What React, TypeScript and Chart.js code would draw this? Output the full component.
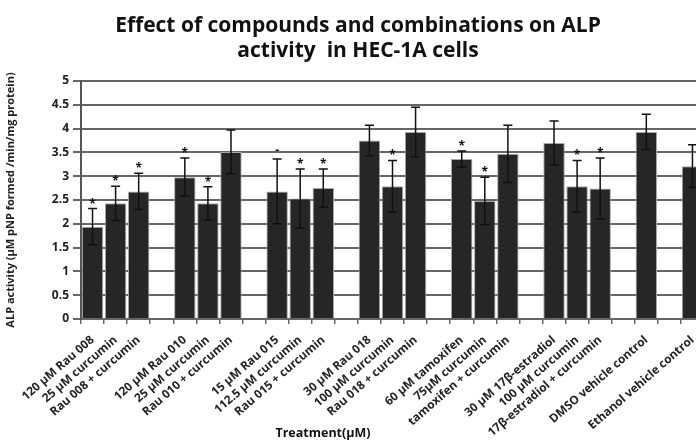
import { useEffect, useRef } from "react";
import { Chart, registerables } from "chart.js";

Chart.register(...registerables);

// 27 category slots; empty strings / nulls are the gaps between treatment groups
const categories: string[] = [
  "120 µM Rau 008", "25 µM curcumin", "Rau 008 + curcumin", "",
  "120 µM Rau 010", "25 µM curcumin", "Rau 010 + curcumin", "",
  "15 µM Rau 015", "112.5 µM curcumin", "Rau 015 + curcumin", "",
  "30 µM Rau 018", "100 µM curcumin", "Rau 018 + curcumin", "",
  "60 µM tamoxifen", "75µM curcumin", "tamoxifen + curcumin", "",
  "30 µM 17β-estradiol", "100 µM curcumin", "17β-estradiol + curcumin", "",
  "DMSO vehicle control", "",
  "Ethanol vehicle control",
];

const means: (number | null)[] = [
  1.94, 2.43, 2.68, null,
  2.98, 2.43, 3.51, null,
  2.68, 2.53, 2.75, null,
  3.75, 2.79, 3.93, null,
  3.36, 2.48, 3.47, null,
  3.70, 2.79, 2.74, null,
  3.93, null,
  3.21,
];

const errors: (number | null)[] = [
  0.38, 0.36, 0.38, null,
  0.40, 0.35, 0.46, null,
  0.68, 0.62, 0.40, null,
  0.32, 0.54, 0.52, null,
  0.17, 0.50, 0.60, null,
  0.46, 0.54, 0.64, null,
  0.37, null,
  0.45,
];

const marks: string[] = [
  "*", "*", "*", "",
  "*", "*", "", "",
  "-", "*", "*", "",
  "", "*", "", "",
  "*", "*", "", "",
  "", "*", "*", "",
  "", "",
  "",
];

const titleLines = ["Effect of compounds and combinations on ALP", "activity  in HEC-1A cells"];
const yTitle = "ALP activity (µM pNP formed /min/mg protein)";
const xTitle = "Treatment(µM)";

const FONT = "'Open Sans', 'DejaVu Sans', sans-serif";

const overlay = {
  id: "overlay",
  afterDatasetsDraw(chart: any) {
    const { ctx } = chart;
    const xs = chart.scales.x;
    const ys = chart.scales.y;
    ctx.save();
    means.forEach((m, i) => {
      if (m == null) return;
      const e = errors[i] ?? 0;
      const cx = xs.getPixelForValue(i);
      const top = ys.getPixelForValue(m + e);
      const bot = ys.getPixelForValue(m - e);
      ctx.strokeStyle = "#111";
      ctx.lineWidth = 1.5;
      ctx.beginPath();
      ctx.moveTo(cx, top);
      ctx.lineTo(cx, bot);
      ctx.moveTo(cx - 4.5, top);
      ctx.lineTo(cx + 4.5, top);
      ctx.moveTo(cx - 4.5, bot);
      ctx.lineTo(cx + 4.5, bot);
      ctx.stroke();
      const mk = marks[i];
      if (mk) {
        ctx.fillStyle = "#111";
        ctx.textAlign = "center";
        ctx.textBaseline = "alphabetic";
        ctx.font = `bold 12px ${FONT}`;
        ctx.fillText(mk, cx, mk === "*" ? top - 1 : top - 5);
      }
    });
    ctx.restore();
  },
  afterDraw(chart: any) {
    const { ctx } = chart;
    ctx.save();
    ctx.fillStyle = "#111";
    ctx.textAlign = "center";
    ctx.textBaseline = "middle";
    ctx.font = `bold 21px ${FONT}`;
    ctx.fillText(titleLines[0], 358, 26);
    ctx.fillText(titleLines[1], 358, 51);
    ctx.font = `bold 12.5px ${FONT}`;
    ctx.fillText(xTitle, 323, 433);
    ctx.restore();
  },
};

export default function App() {
  const ref = useRef<HTMLCanvasElement | null>(null);
  useEffect(() => {
    if (!ref.current) return;
    const chart = new Chart(ref.current, {
      type: "bar",
      data: {
        labels: categories,
        datasets: [
          {
            data: means as any,
            backgroundColor: "#262626",
            borderColor: "#a8a8a8",
            borderWidth: 1,
            barPercentage: 1,
            categoryPercentage: 0.93,
          },
        ],
      },
      options: {
        animation: false,
        responsive: false,
        devicePixelRatio: 1,
        layout: { padding: { top: 81, right: 12, left: 4, bottom: 0 } },
        plugins: { legend: { display: false }, title: { display: false }, tooltip: { enabled: false } },
        scales: {
          x: {
            afterFit: (s: any) => { s.height = 123; },
            grid: { drawOnChartArea: false, drawTicks: true, tickLength: 5, color: "#666", lineWidth: 1.5, offset: true },
            border: { display: true, color: "#666", width: 1.5 },
            ticks: {
              autoSkip: false,
              maxRotation: 41,
              minRotation: 41,
              padding: 9,
              color: "#222",
              font: { family: FONT, size: 11.8, weight: "bold" },
            },
          },
          y: {
            min: 0,
            max: 5,
            afterFit: (s: any) => { s.width = 77; },
            ticks: {
              stepSize: 0.5,
              padding: 4,
              color: "#222",
              font: { family: FONT, size: 12, weight: "bold" },
              callback: (v: any) => String(Math.round(Number(v) * 10) / 10),
            },
            grid: { color: "#666", lineWidth: 2, tickLength: 8 },
            border: { display: true, color: "#555", width: 2 },
            title: {
              display: true,
              text: yTitle,
              color: "#222",
              font: { family: FONT, size: 11, weight: "bold" },
              padding: { top: 0, bottom: 0 },
            },
          },
        },
      },
      plugins: [overlay],
    });
    return () => chart.destroy();
  }, []);
  return (
    <div style={{ position: "fixed", left: 0, top: 0, width: 696, height: 442, overflow: "hidden", background: "#fff" }}>
      <canvas ref={ref} width={716} height={442} style={{ display: "block" }} />
    </div>
  );
}
